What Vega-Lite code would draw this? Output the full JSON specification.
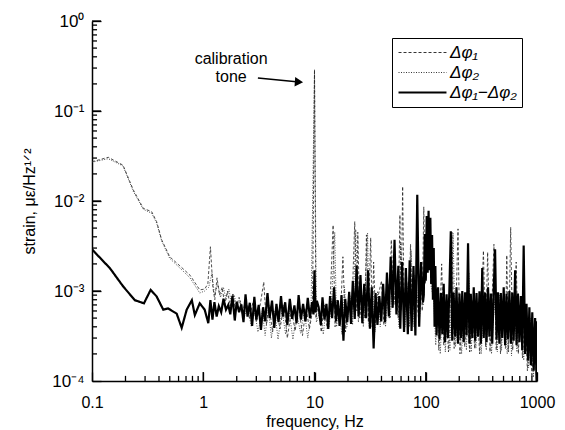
{
  "$schema": "https://vega.github.io/schema/vega-lite/v6.json",
  "autosize": {"type": "none"},
  "padding": {"left": 92, "top": 21, "right": 28, "bottom": 49},
  "width": 445,
  "height": 360,
  "config": {
    "view": {"stroke": null},
    "font": "Liberation Sans",
    "axis": {"domainColor": "black", "tickColor": "black", "labelColor": "black", "titleColor": "black", "grid": false, "labelFont": "Liberation Sans", "titleFont": "Liberation Sans", "titleFontWeight": "normal"},
    "legend": {"labelFont": "Liberation Sans", "orient": "none", "legendX": 300, "legendY": 17, "title": null, "strokeColor": "black", "fillColor": "white", "padding": 5, "symbolType": "stroke", "symbolSize": 2300, "symbolStrokeColor": "black", "clipHeight": 19, "labelFontSize": 17, "labelFontStyle": "italic", "labelOffset": 2, "rowPadding": 1}
  },
  "datasets": {
    "xmaj": [{"t":1},{"t":10},{"t":100},{"t":1000}],
    "xmin": [{"t":0.2},{"t":0.3},{"t":0.4},{"t":0.5},{"t":0.6},{"t":0.7},{"t":0.8},{"t":0.9},{"t":2},{"t":3},{"t":4},{"t":5},{"t":6},{"t":7},{"t":8},{"t":9},{"t":20},{"t":30},{"t":40},{"t":50},{"t":60},{"t":70},{"t":80},{"t":90},{"t":200},{"t":300},{"t":400},{"t":500},{"t":600},{"t":700},{"t":800},{"t":900}],
    "ymaj": [{"t":0.001},{"t":0.01},{"t":0.1},{"t":1}],
    "ymin": [{"t":0.0002},{"t":0.0003},{"t":0.0004},{"t":0.0005},{"t":0.0006},{"t":0.0007},{"t":0.0008},{"t":0.0009},{"t":0.002},{"t":0.003},{"t":0.004},{"t":0.005},{"t":0.006},{"t":0.007},{"t":0.008},{"t":0.009},{"t":0.02},{"t":0.03},{"t":0.04},{"t":0.05},{"t":0.06},{"t":0.07},{"t":0.08},{"t":0.09},{"t":0.2},{"t":0.3},{"t":0.4},{"t":0.5},{"t":0.6},{"t":0.7},{"t":0.8},{"t":0.9}],
    "spec": [
      {"f":0.1,"s":"a","v":0.0273},{"f":0.14,"s":"a","v":0.0306},{"f":0.19,"s":"a","v":0.025},{"f":0.235,"s":"a","v":0.0133},{"f":0.289,"s":"a","v":0.0083},{"f":0.344,"s":"a","v":0.0076},{"f":0.381,"s":"a","v":0.0059},{"f":0.423,"s":"a","v":0.0037},{"f":0.5,"s":"a","v":0.0024},{"f":0.617,"s":"a","v":0.0019},{"f":0.76,"s":"a","v":0.0015},{"f":0.93,"s":"a","v":0.00103},{"f":1.03,"s":"a","v":0.00105},{"f":1.1,"s":"a","v":0.0012},{"f":1.16,"s":"a","v":0.0031},{"f":1.22,"s":"a","v":0.0011},{"f":1.27,"s":"a","v":0.0008},{"f":1.33,"s":"a","v":0.0014},{"f":1.4,"s":"a","v":0.0009},{"f":1.48,"s":"a","v":0.0011},{"f":1.56,"s":"a","v":0.0007},{"f":1.65,"s":"a","v":0.001},{"f":1.75,"s":"a","v":0.00068},{"f":1.85,"s":"a","v":0.00095},{"f":1.95,"s":"a","v":0.0006},{"f":2.1,"s":"a","v":0.00085},{"f":2.25,"s":"a","v":0.00055},{"f":2.4,"s":"a","v":0.0008},{"f":2.6,"s":"a","v":0.0005},{"f":2.8,"s":"a","v":0.00075},{"f":3.0,"s":"a","v":0.00045},{"f":3.25,"s":"a","v":0.0007},{"f":3.5,"s":"a","v":0.00126},{"f":3.7,"s":"a","v":0.00042},{"f":3.9,"s":"a","v":0.0007},{"f":4.2,"s":"a","v":0.00035},{"f":4.5,"s":"a","v":0.00065},{"f":4.9,"s":"a","v":0.00038},{"f":5.3,"s":"a","v":0.0007},{"f":5.7,"s":"a","v":0.0003},{"f":6.2,"s":"a","v":0.00062},{"f":6.7,"s":"a","v":0.00036},{"f":7.2,"s":"a","v":0.0007},{"f":7.8,"s":"a","v":0.00032},{"f":8.4,"s":"a","v":0.00065},{"f":9.0,"s":"a","v":0.00038},{"f":9.6,"s":"a","v":0.0006},{"f":10.0,"s":"a","v":0.29},{"f":10.3,"s":"a","v":0.0005},{"f":10.8,"s":"a","v":0.0007},{"f":11.5,"s":"a","v":0.00035},{"f":12.2,"s":"a","v":0.0007},{"f":13.0,"s":"a","v":0.00038},{"f":13.8,"s":"a","v":0.00075},{"f":14.7,"s":"a","v":0.0054},{"f":15.3,"s":"a","v":0.0004},{"f":16.0,"s":"a","v":0.0008},{"f":17.0,"s":"a","v":0.00042},{"f":18.0,"s":"a","v":0.0024},{"f":19.0,"s":"a","v":0.00035},{"f":20.2,"s":"a","v":0.0008},{"f":21.5,"s":"a","v":0.00045},{"f":23.0,"s":"a","v":0.0059},{"f":24.0,"s":"a","v":0.0006},{"f":24.5,"s":"a","v":0.0045},{"f":25.5,"s":"a","v":0.0005},{"f":27.0,"s":"a","v":0.0009},{"f":28.3,"s":"a","v":0.0005},{"f":29.3,"s":"a","v":0.0042},{"f":30.5,"s":"a","v":0.00045},{"f":32.0,"s":"a","v":0.0039},{"f":33.0,"s":"a","v":0.0004},{"f":34.0,"s":"a","v":0.0021},{"f":35.5,"s":"a","v":0.00045},{"f":37.5,"s":"a","v":0.0009},{"f":40.0,"s":"a","v":0.0013},{"f":42.0,"s":"a","v":0.00042},{"f":44.5,"s":"a","v":0.0009},{"f":47.0,"s":"a","v":0.0005},{"f":49.0,"s":"a","v":0.0037},{"f":51.5,"s":"a","v":0.0007},{"f":54.0,"s":"a","v":0.0012},{"f":56.5,"s":"a","v":0.0005},{"f":58.6,"s":"a","v":0.007},{"f":60.0,"s":"a","v":0.0006},{"f":62.0,"s":"a","v":0.0145},{"f":64.0,"s":"a","v":0.0005},{"f":67.0,"s":"a","v":0.0016},{"f":70.0,"s":"a","v":0.0005},{"f":73.0,"s":"a","v":0.0033},{"f":76.0,"s":"a","v":0.00045},{"f":80.0,"s":"a","v":0.0015},{"f":86.0,"s":"a","v":0.0005},{"f":90.0,"s":"a","v":0.0021},{"f":93.0,"s":"a","v":0.0006},{"f":96.0,"s":"a","v":0.0086},{"f":99,"s":"a","v":0.0012},{"f":103,"s":"a","v":0.0018},{"f":107,"s":"a","v":0.0055},{"f":111,"s":"a","v":0.0012},{"f":115,"s":"a","v":0.0025},{"f":117,"s":"a","v":0.003},{"f":121,"s":"a","v":0.0004},{"f":126,"s":"a","v":0.0009},{"f":131,"s":"a","v":0.00022},{"f":139,"s":"a","v":0.002},{"f":145,"s":"a","v":0.00025},{"f":152,"s":"a","v":0.0008},{"f":160,"s":"a","v":0.00021},{"f":166,"s":"a","v":0.0008},{"f":172,"s":"a","v":0.0045},{"f":180,"s":"a","v":0.00023},{"f":188,"s":"a","v":0.0009},{"f":195,"s":"a","v":0.0049},{"f":203,"s":"a","v":0.0002},{"f":213,"s":"a","v":0.0008},{"f":224,"s":"a","v":0.00024},{"f":236,"s":"a","v":0.0007},{"f":248,"s":"a","v":0.00021},{"f":262,"s":"a","v":0.0008},{"f":275,"s":"a","v":0.00023},{"f":290,"s":"a","v":0.0007},{"f":305,"s":"a","v":0.0002},{"f":330,"s":"a","v":0.0028},{"f":345,"s":"a","v":0.00024},{"f":360,"s":"a","v":0.0027},{"f":378,"s":"a","v":0.00021},{"f":395,"s":"a","v":0.0008},{"f":410,"s":"a","v":0.0033},{"f":430,"s":"a","v":0.00022},{"f":450,"s":"a","v":0.0008},{"f":470,"s":"a","v":0.0002},{"f":495,"s":"a","v":0.0007},{"f":520,"s":"a","v":0.00023},{"f":535,"s":"a","v":0.0025},{"f":555,"s":"a","v":0.00021},{"f":580,"s":"a","v":0.0051},{"f":605,"s":"a","v":0.00022},{"f":630,"s":"a","v":0.0008},{"f":650,"s":"a","v":0.0021},{"f":680,"s":"a","v":0.0002},{"f":710,"s":"a","v":0.0007},{"f":740,"s":"a","v":0.00018},{"f":780,"s":"a","v":0.0006},{"f":820,"s":"a","v":0.00013},{"f":860,"s":"a","v":0.0005},{"f":900,"s":"a","v":0.00011},{"f":950,"s":"a","v":0.0004},{"f":990,"s":"a","v":0.0001},

      {"f":0.1,"s":"b","v":0.027},{"f":0.14,"s":"b","v":0.0295},{"f":0.19,"s":"b","v":0.0245},{"f":0.235,"s":"b","v":0.0128},{"f":0.289,"s":"b","v":0.0081},{"f":0.344,"s":"b","v":0.0073},{"f":0.381,"s":"b","v":0.0057},{"f":0.423,"s":"b","v":0.0036},{"f":0.5,"s":"b","v":0.0023},{"f":0.617,"s":"b","v":0.0018},{"f":0.76,"s":"b","v":0.0014},{"f":0.93,"s":"b","v":0.00095},{"f":1.03,"s":"b","v":0.001},{"f":1.12,"s":"b","v":0.0011},{"f":1.2,"s":"b","v":0.0016},{"f":1.26,"s":"b","v":0.0009},{"f":1.35,"s":"b","v":0.0012},{"f":1.43,"s":"b","v":0.00085},{"f":1.52,"s":"b","v":0.0011},{"f":1.6,"s":"b","v":0.0008},{"f":1.7,"s":"b","v":0.00105},{"f":1.8,"s":"b","v":0.0007},{"f":1.9,"s":"b","v":0.0009},{"f":2.0,"s":"b","v":0.00065},{"f":2.15,"s":"b","v":0.0008},{"f":2.3,"s":"b","v":0.00048},{"f":2.5,"s":"b","v":0.0007},{"f":2.7,"s":"b","v":0.0004},{"f":2.9,"s":"b","v":0.0006},{"f":3.1,"s":"b","v":0.00035},{"f":3.4,"s":"b","v":0.0006},{"f":3.6,"s":"b","v":0.00032},{"f":3.85,"s":"b","v":0.00065},{"f":4.1,"s":"b","v":0.0003},{"f":4.4,"s":"b","v":0.0006},{"f":4.7,"s":"b","v":0.00029},{"f":5.1,"s":"b","v":0.00062},{"f":5.5,"s":"b","v":0.00033},{"f":5.9,"s":"b","v":0.0006},{"f":6.4,"s":"b","v":0.00029},{"f":6.9,"s":"b","v":0.00058},{"f":7.5,"s":"b","v":0.00034},{"f":8.1,"s":"b","v":0.0006},{"f":8.7,"s":"b","v":0.0003},{"f":9.3,"s":"b","v":0.00055},{"f":10.0,"s":"b","v":0.27},{"f":10.4,"s":"b","v":0.00045},{"f":11.2,"s":"b","v":0.0006},{"f":12.0,"s":"b","v":0.00033},{"f":12.7,"s":"b","v":0.00065},{"f":13.5,"s":"b","v":0.0004},{"f":14.2,"s":"b","v":0.0007},{"f":15.2,"s":"b","v":0.0045},{"f":15.8,"s":"b","v":0.0004},{"f":16.5,"s":"b","v":0.0007},{"f":17.6,"s":"b","v":0.00033},{"f":18.6,"s":"b","v":0.0011},{"f":19.6,"s":"b","v":0.0004},{"f":20.8,"s":"b","v":0.0009},{"f":22.0,"s":"b","v":0.00042},{"f":23.5,"s":"b","v":0.0048},{"f":24.8,"s":"b","v":0.00045},{"f":25.8,"s":"b","v":0.0012},{"f":27.5,"s":"b","v":0.0004},{"f":28.6,"s":"b","v":0.0011},{"f":30.0,"s":"b","v":0.0044},{"f":31.0,"s":"b","v":0.0004},{"f":33.5,"s":"b","v":0.001},{"f":35.0,"s":"b","v":0.00035},{"f":37.0,"s":"b","v":0.001},{"f":39.0,"s":"b","v":0.0004},{"f":41.0,"s":"b","v":0.0009},{"f":43.5,"s":"b","v":0.0004},{"f":46.0,"s":"b","v":0.0012},{"f":48.0,"s":"b","v":0.0005},{"f":50.5,"s":"b","v":0.0014},{"f":53.0,"s":"b","v":0.0007},{"f":55.5,"s":"b","v":0.0009},{"f":57.5,"s":"b","v":0.0004},{"f":59.5,"s":"b","v":0.0035},{"f":62.5,"s":"b","v":0.0012},{"f":65.0,"s":"b","v":0.0004},{"f":68.0,"s":"b","v":0.0012},{"f":71.5,"s":"b","v":0.0004},{"f":74.0,"s":"b","v":0.0028},{"f":78.0,"s":"b","v":0.0004},{"f":82.0,"s":"b","v":0.0012},{"f":88.0,"s":"b","v":0.0005},{"f":92.0,"s":"b","v":0.0013},{"f":95,"s":"b","v":0.0007},{"f":100,"s":"b","v":0.0021},{"f":104,"s":"b","v":0.0022},{"f":108,"s":"b","v":0.0045},{"f":112,"s":"b","v":0.0011},{"f":118,"s":"b","v":0.0008},{"f":123,"s":"b","v":0.00025},{"f":128,"s":"b","v":0.0007},{"f":135,"s":"b","v":0.0002},{"f":142,"s":"b","v":0.0007},{"f":150,"s":"b","v":0.00021},{"f":158,"s":"b","v":0.0008},{"f":165,"s":"b","v":0.00022},{"f":176,"s":"b","v":0.0044},{"f":185,"s":"b","v":0.00024},{"f":198,"s":"b","v":0.0007},{"f":210,"s":"b","v":0.0002},{"f":222,"s":"b","v":0.0008},{"f":232,"s":"b","v":0.00022},{"f":244,"s":"b","v":0.0016},{"f":256,"s":"b","v":0.00021},{"f":268,"s":"b","v":0.0007},{"f":282,"s":"b","v":0.00023},{"f":298,"s":"b","v":0.0007},{"f":315,"s":"b","v":0.0002},{"f":336,"s":"b","v":0.0008},{"f":350,"s":"b","v":0.00022},{"f":370,"s":"b","v":0.0007},{"f":390,"s":"b","v":0.0002},{"f":415,"s":"b","v":0.0008},{"f":440,"s":"b","v":0.00021},{"f":460,"s":"b","v":0.0009},{"f":480,"s":"b","v":0.00022},{"f":505,"s":"b","v":0.0008},{"f":540,"s":"b","v":0.0002},{"f":570,"s":"b","v":0.0008},{"f":590,"s":"b","v":0.00019},{"f":620,"s":"b","v":0.0008},{"f":660,"s":"b","v":0.00021},{"f":700,"s":"b","v":0.0007},{"f":760,"s":"b","v":0.00017},{"f":800,"s":"b","v":0.0006},{"f":840,"s":"b","v":0.00014},{"f":880,"s":"b","v":0.0005},{"f":930,"s":"b","v":0.00011},{"f":970,"s":"b","v":0.0004},{"f":1000,"s":"b","v":0.0001},

      {"f":0.1,"s":"c","v":0.0029},{"f":0.145,"s":"c","v":0.00179},{"f":0.191,"s":"c","v":0.00112},{"f":0.243,"s":"c","v":0.00079},{"f":0.293,"s":"c","v":0.00073},{"f":0.337,"s":"c","v":0.00103},{"f":0.381,"s":"c","v":0.00087},{"f":0.437,"s":"c","v":0.00062},{"f":0.483,"s":"c","v":0.00064},{"f":0.577,"s":"c","v":0.00056},{"f":0.64,"s":"c","v":0.00039},{"f":0.71,"s":"c","v":0.00062},{"f":0.79,"s":"c","v":0.00079},{"f":0.84,"s":"c","v":0.00054},{"f":0.93,"s":"c","v":0.00073},{"f":1.03,"s":"c","v":0.00062},{"f":1.11,"s":"c","v":0.00044},{"f":1.16,"s":"c","v":0.00079},{"f":1.21,"s":"c","v":0.00048},{"f":1.26,"s":"c","v":0.00075},{"f":1.32,"s":"c","v":0.00052},{"f":1.38,"s":"c","v":0.00068},{"f":1.45,"s":"c","v":0.00058},{"f":1.52,"s":"c","v":0.00082},{"f":1.6,"s":"c","v":0.00062},{"f":1.68,"s":"c","v":0.0007},{"f":1.75,"s":"c","v":0.00055},{"f":1.83,"s":"c","v":0.00088},{"f":1.92,"s":"c","v":0.00047},{"f":2.0,"s":"c","v":0.00076},{"f":2.1,"s":"c","v":0.00058},{"f":2.2,"s":"c","v":0.00071},{"f":2.3,"s":"c","v":0.00045},{"f":2.4,"s":"c","v":0.00092},{"f":2.5,"s":"c","v":0.00052},{"f":2.62,"s":"c","v":0.00074},{"f":2.75,"s":"c","v":0.00041},{"f":2.88,"s":"c","v":0.00086},{"f":3.0,"s":"c","v":0.00048},{"f":3.15,"s":"c","v":0.0007},{"f":3.3,"s":"c","v":0.00037},{"f":3.45,"s":"c","v":0.00066},{"f":3.6,"s":"c","v":0.00046},{"f":3.78,"s":"c","v":0.00095},{"f":3.95,"s":"c","v":0.0005},{"f":4.15,"s":"c","v":0.00078},{"f":4.35,"s":"c","v":0.00039},{"f":4.55,"s":"c","v":0.00072},{"f":4.75,"s":"c","v":0.00045},{"f":5.0,"s":"c","v":0.00088},{"f":5.2,"s":"c","v":0.00052},{"f":5.45,"s":"c","v":0.00075},{"f":5.7,"s":"c","v":0.00042},{"f":6.0,"s":"c","v":0.00082},{"f":6.3,"s":"c","v":0.00049},{"f":6.6,"s":"c","v":0.00069},{"f":6.9,"s":"c","v":0.00044},{"f":7.2,"s":"c","v":0.0009},{"f":7.55,"s":"c","v":0.00048},{"f":7.9,"s":"c","v":0.00072},{"f":8.3,"s":"c","v":0.00046},{"f":8.7,"s":"c","v":0.00084},{"f":9.1,"s":"c","v":0.0005},{"f":9.5,"s":"c","v":0.00075},{"f":9.8,"s":"c","v":0.00055},{"f":10.0,"s":"c","v":0.0017},{"f":10.2,"s":"c","v":0.00058},{"f":10.5,"s":"c","v":0.00078},{"f":10.9,"s":"c","v":0.00066},{"f":11.4,"s":"c","v":0.00042},{"f":11.8,"s":"c","v":0.00085},{"f":12.3,"s":"c","v":0.00048},{"f":12.8,"s":"c","v":0.00072},{"f":13.3,"s":"c","v":0.00038},{"f":13.8,"s":"c","v":0.00088},{"f":14.4,"s":"c","v":0.0005},{"f":15.0,"s":"c","v":0.0011},{"f":15.6,"s":"c","v":0.00046},{"f":16.2,"s":"c","v":0.00079},{"f":16.8,"s":"c","v":0.00041},{"f":17.5,"s":"c","v":0.0009},{"f":18.2,"s":"c","v":0.00028},{"f":18.9,"s":"c","v":0.00082},{"f":19.7,"s":"c","v":0.00045},{"f":20.5,"s":"c","v":0.00098},{"f":21.3,"s":"c","v":0.00043},{"f":22.1,"s":"c","v":0.0013},{"f":23.0,"s":"c","v":0.00049},{"f":23.9,"s":"c","v":0.0019},{"f":24.9,"s":"c","v":0.00052},{"f":25.9,"s":"c","v":0.0015},{"f":26.9,"s":"c","v":0.00044},{"f":28.0,"s":"c","v":0.0012},{"f":29.1,"s":"c","v":0.0005},{"f":30.3,"s":"c","v":0.0017},{"f":31.5,"s":"c","v":0.00038},{"f":32.7,"s":"c","v":0.0011},{"f":34.0,"s":"c","v":0.00023},{"f":35.4,"s":"c","v":0.00095},{"f":36.8,"s":"c","v":0.00042},{"f":38.3,"s":"c","v":0.00088},{"f":39.8,"s":"c","v":0.00046},{"f":41.4,"s":"c","v":0.0012},{"f":43.1,"s":"c","v":0.00045},{"f":44.8,"s":"c","v":0.0016},{"f":46.6,"s":"c","v":0.00052},{"f":48.4,"s":"c","v":0.0024},{"f":50.4,"s":"c","v":0.00065},{"f":52.4,"s":"c","v":0.0037},{"f":54.5,"s":"c","v":0.00055},{"f":56.7,"s":"c","v":0.0019},{"f":59.0,"s":"c","v":0.00038},{"f":61.3,"s":"c","v":0.0021},{"f":63.8,"s":"c","v":0.00035},{"f":66.3,"s":"c","v":0.0018},{"f":69.0,"s":"c","v":0.00033},{"f":71.7,"s":"c","v":0.0022},{"f":74.6,"s":"c","v":0.00036},{"f":77.6,"s":"c","v":0.0019},{"f":80.7,"s":"c","v":0.00032},{"f":83.9,"s":"c","v":0.0117},{"f":87.3,"s":"c","v":0.0004},{"f":90.8,"s":"c","v":0.0021},{"f":94.4,"s":"c","v":0.00075},{"f":96,"s":"c","v":0.0009},{"f":98,"s":"c","v":0.0043},{"f":100,"s":"c","v":0.0013},{"f":102,"s":"c","v":0.0068},{"f":104,"s":"c","v":0.0016},{"f":106,"s":"c","v":0.0078},{"f":108,"s":"c","v":0.0017},{"f":110,"s":"c","v":0.0065},{"f":112,"s":"c","v":0.0012},{"f":114,"s":"c","v":0.0042},{"f":116,"s":"c","v":0.0008},{"f":118,"s":"c","v":0.003},{"f":120,"s":"c","v":0.0004},{"f":122,"s":"c","v":0.0019},{"f":125,"s":"c","v":0.00032},{"f":129,"s":"c","v":0.0011},{"f":133,"s":"c","v":0.00029},{"f":137,"s":"c","v":0.00095},{"f":141,"s":"c","v":0.00033},{"f":145,"s":"c","v":0.0012},{"f":149,"s":"c","v":0.00027},{"f":154,"s":"c","v":0.00092},{"f":158,"s":"c","v":0.0003},{"f":163,"s":"c","v":0.001},{"f":168,"s":"c","v":0.0046},{"f":173,"s":"c","v":0.00028},{"f":178,"s":"c","v":0.00096},{"f":184,"s":"c","v":0.00031},{"f":189,"s":"c","v":0.0011},{"f":195,"s":"c","v":0.00026},{"f":201,"s":"c","v":0.00094},{"f":207,"s":"c","v":0.0003},{"f":213,"s":"c","v":0.001},{"f":219,"s":"c","v":0.00027},{"f":226,"s":"c","v":0.00097},{"f":233,"s":"c","v":0.00032},{"f":240,"s":"c","v":0.0034},{"f":247,"s":"c","v":0.00026},{"f":254,"s":"c","v":0.00093},{"f":262,"s":"c","v":0.0003},{"f":270,"s":"c","v":0.0011},{"f":278,"s":"c","v":0.00028},{"f":286,"s":"c","v":0.00095},{"f":295,"s":"c","v":0.00031},{"f":304,"s":"c","v":0.00099},{"f":313,"s":"c","v":0.00026},{"f":322,"s":"c","v":0.0018},{"f":332,"s":"c","v":0.0003},{"f":342,"s":"c","v":0.00096},{"f":352,"s":"c","v":0.00027},{"f":363,"s":"c","v":0.0011},{"f":373,"s":"c","v":0.00031},{"f":385,"s":"c","v":0.00094},{"f":396,"s":"c","v":0.00026},{"f":408,"s":"c","v":0.001},{"f":420,"s":"c","v":0.0029},{"f":433,"s":"c","v":0.00029},{"f":446,"s":"c","v":0.00097},{"f":459,"s":"c","v":0.00026},{"f":473,"s":"c","v":0.00095},{"f":487,"s":"c","v":0.0003},{"f":502,"s":"c","v":0.0011},{"f":517,"s":"c","v":0.00025},{"f":532,"s":"c","v":0.00093},{"f":548,"s":"c","v":0.00029},{"f":565,"s":"c","v":0.001},{"f":582,"s":"c","v":0.00026},{"f":599,"s":"c","v":0.00096},{"f":617,"s":"c","v":0.00028},{"f":636,"s":"c","v":0.0017},{"f":655,"s":"c","v":0.00025},{"f":674,"s":"c","v":0.00094},{"f":695,"s":"c","v":0.00027},{"f":716,"s":"c","v":0.00088},{"f":737,"s":"c","v":0.00022},{"f":759,"s":"c","v":0.0032},{"f":782,"s":"c","v":0.0002},{"f":805,"s":"c","v":0.00072},{"f":830,"s":"c","v":0.00017},{"f":854,"s":"c","v":0.00066},{"f":880,"s":"c","v":0.00015},{"f":907,"s":"c","v":0.00058},{"f":934,"s":"c","v":0.00013},{"f":962,"s":"c","v":0.0005},{"f":991,"s":"c","v":0.0001},{"f":1000,"s":"c","v":0.00046}
    ],
    "notes": [
      {"f":1.78,"v":0.38,"t":"calibration"},
      {"f":1.78,"v":0.24,"t":"tone"}
    ],
    "arrow": [
      {"f":3.1,"v":0.233,"f2":7.25,"v2":0.21}
    ]
  },
  "layer": [
    {
      "data": {"name": "spec"},
      "transform": [{"filter": "datum.s != 'c'"}],
      "mark": {"type": "line", "color": "#222", "clip": true},
      "encoding": {
        "x": {"field": "f", "type": "quantitative", "scale": {"type": "log", "domain": [0.1, 1000], "nice": false},
              "axis": {"orient": "bottom", "values": [0.1, 1, 10, 100, 1000], "labelExpr": "datum.value < 0.5 ? '0.1' : format(datum.value, 'd')", "ticks": true, "tickSize": -9, "tickWidth": 1.3, "labelPadding": 22, "labelFontSize": 16, "labelFlush": false, "title": "frequency, Hz", "titleFontSize": 16, "titlePadding": 3, "domainWidth": 1.5}},
        "y": {"field": "v", "type": "quantitative", "scale": {"type": "log", "domain": [0.0001, 1], "nice": false},
              "axis": {"orient": "left", "values": [0.0001, 0.001, 0.01, 0.1, 1], "labelExpr": "datum.value >= 0.5 ? '10⁰' : datum.value >= 0.05 ? '10⁻¹' : datum.value >= 0.005 ? '10⁻²' : datum.value >= 0.0005 ? '10⁻³' : '10⁻⁴'", "ticks": true, "tickSize": -9, "tickWidth": 1.3, "labelPadding": 17, "labelFontSize": 17, "labelFlush": false, "title": "strain, με/Hz¹ᐟ²", "titleFontSize": 16, "titlePadding": 14, "domainWidth": 1.5}},
        "detail": {"field": "s"},
        "strokeDash": {"field": "s", "type": "nominal", "scale": {"domain": ["a", "b", "c"], "range": [[3, 2], [1, 1.5], [1, 0]]},
          "legend": {"labelExpr": "datum.value == 'a' ? 'Δφ₁' : datum.value == 'b' ? 'Δφ₂' : 'Δφ₁−Δφ₂'"}},
        "strokeWidth": {"field": "s", "type": "nominal", "scale": {"type": "ordinal", "domain": ["a", "b", "c"], "range": [0.8, 0.8, 2.2]},
          "legend": {"labelExpr": "datum.value == 'a' ? 'Δφ₁' : datum.value == 'b' ? 'Δφ₂' : 'Δφ₁−Δφ₂'"}}
      }
    },
    {
      "data": {"name": "spec"},
      "transform": [{"filter": "datum.s == 'c'"}],
      "mark": {"type": "line", "color": "black", "clip": true},
      "encoding": {
        "x": {"field": "f", "type": "quantitative", "axis": null},
        "y": {"field": "v", "type": "quantitative", "axis": null},
        "strokeDash": {"field": "s", "type": "nominal", "scale": {"domain": ["a", "b", "c"], "range": [[3, 2], [1, 1.5], [1, 0]]},
          "legend": {"labelExpr": "datum.value == 'a' ? 'Δφ₁' : datum.value == 'b' ? 'Δφ₂' : 'Δφ₁−Δφ₂'"}},
        "strokeWidth": {"field": "s", "type": "nominal", "scale": {"type": "ordinal", "domain": ["a", "b", "c"], "range": [0.8, 0.8, 2.2]},
          "legend": {"labelExpr": "datum.value == 'a' ? 'Δφ₁' : datum.value == 'b' ? 'Δφ₂' : 'Δφ₁−Δφ₂'"}}
      }
    },
    {
      "data": {"name": "xmaj"},
      "mark": {"type": "rule", "color": "black", "strokeWidth": 1.3},
      "encoding": {
        "x": {"field": "t", "type": "quantitative", "axis": null},
        "y": {"datum": 0.0001, "type": "quantitative", "axis": null},
        "y2": {"datum": 0.000126}
      }
    },
    {
      "data": {"name": "xmin"},
      "mark": {"type": "rule", "color": "black", "strokeWidth": 1.3},
      "encoding": {
        "x": {"field": "t", "type": "quantitative", "axis": null},
        "y": {"datum": 0.0001, "type": "quantitative", "axis": null},
        "y2": {"datum": 0.000114}
      }
    },
    {
      "data": {"name": "ymaj"},
      "mark": {"type": "rule", "color": "black", "strokeWidth": 1.3},
      "encoding": {
        "y": {"field": "t", "type": "quantitative", "axis": null},
        "x": {"datum": 0.1, "type": "quantitative", "axis": null},
        "x2": {"datum": 0.1205}
      }
    },
    {
      "data": {"name": "ymin"},
      "mark": {"type": "rule", "color": "black", "strokeWidth": 1.3},
      "encoding": {
        "y": {"field": "t", "type": "quantitative", "axis": null},
        "x": {"datum": 0.1, "type": "quantitative", "axis": null},
        "x2": {"datum": 0.111}
      }
    },
    {
      "data": {"name": "notes"},
      "mark": {"type": "text", "fontSize": 16, "color": "black", "font": "Liberation Sans"},
      "encoding": {
        "x": {"field": "f", "type": "quantitative", "axis": null},
        "y": {"field": "v", "type": "quantitative", "axis": null},
        "text": {"field": "t"}
      }
    },
    {
      "data": {"name": "arrow"},
      "mark": {"type": "rule", "color": "black", "strokeWidth": 1.5},
      "encoding": {
        "x": {"field": "f", "type": "quantitative", "axis": null},
        "y": {"field": "v", "type": "quantitative", "axis": null},
        "x2": {"field": "f2"},
        "y2": {"field": "v2"}
      }
    },
    {
      "data": {"name": "arrow"},
      "mark": {"type": "point", "shape": "triangle-right", "filled": true, "color": "black", "size": 90, "angle": 4, "opacity": 1},
      "encoding": {
        "x": {"field": "f2", "type": "quantitative", "axis": null},
        "y": {"field": "v2", "type": "quantitative", "axis": null}
      }
    }
  ],
  "resolve": {"axis": {"x": "independent", "y": "independent"}}
}
